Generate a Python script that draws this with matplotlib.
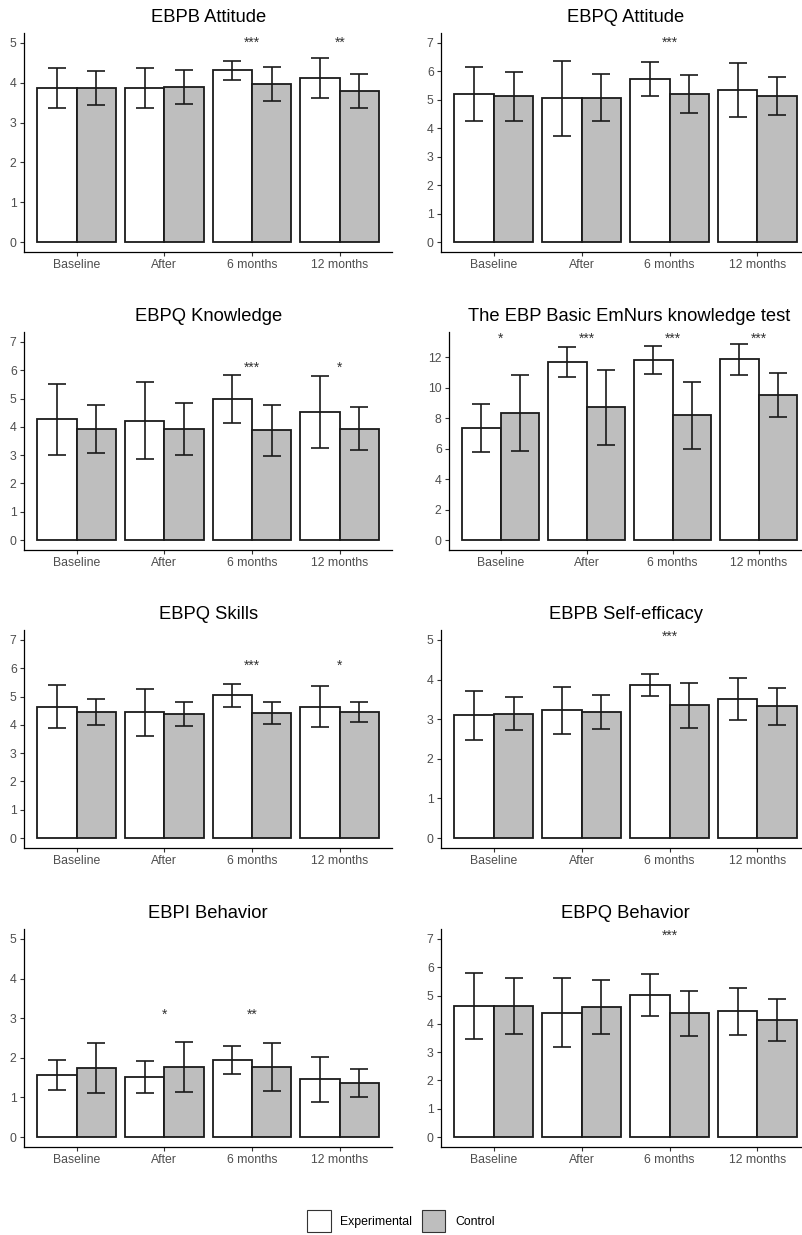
import matplotlib
matplotlib.use("Agg")
import matplotlib.pyplot as plt
from matplotlib.patches import Patch
import numpy as np

plt.rcParams["font.family"] = ["Liberation Sans", "DejaVu Sans"]

# ---- data ----
timepoints = ["Baseline", "After", "6 months", "12 months"]

titles = ["EBPB Attitude", "EBPQ Attitude", "EBPQ Knowledge",
          "The EBP Basic EmNurs knowledge test", "EBPQ Skills",
          "EBPB Self-efficacy", "EBPI Behavior", "EBPQ Behavior"]
y_max = [5, 7, 7, 13, 7, 5, 5, 7]
y_ticks = [range(0, 6), range(0, 8), range(0, 8), range(0, 13, 2),
           range(0, 8), range(0, 6), range(0, 6), range(0, 8)]

ebpb_att_exp = [3.86, 3.86, 4.31, 4.12]
ebpb_att_exp_err = [0.50, 0.50, 0.23, 0.49]
ebpb_att_ctrl = [3.86, 3.90, 3.97, 3.80]
ebpb_att_ctrl_err = [0.43, 0.43, 0.42, 0.43]

ebpq_att_exp = [5.21, 5.05, 5.73, 5.35]
ebpq_att_exp_err = [0.96, 1.31, 0.59, 0.94]
ebpq_att_ctrl = [5.12, 5.08, 5.21, 5.12]
ebpq_att_ctrl_err = [0.86, 0.84, 0.68, 0.67]

ebpq_know_exp = [4.26, 4.22, 4.98, 4.53]
ebpq_know_exp_err = [1.27, 1.35, 0.85, 1.26]
ebpq_know_ctrl = [3.91, 3.92, 3.88, 3.94]
ebpq_know_ctrl_err = [0.85, 0.91, 0.90, 0.76]

test_exp = [7.35, 11.67, 11.80, 11.85]
test_exp_err = [1.58, 0.97, 0.91, 1.04]
test_ctrl = [8.34, 8.71, 8.18, 9.54]
test_ctrl_err = [2.48, 2.48, 2.19, 1.45]

ebpq_skill_exp = [4.64, 4.44, 5.04, 4.64]
ebpq_skill_exp_err = [0.76, 0.83, 0.42, 0.72]
ebpq_skill_ctrl = [4.45, 4.38, 4.42, 4.45]
ebpq_skill_ctrl_err = [0.46, 0.43, 0.40, 0.34]

ebpb_self_exp = [3.10, 3.22, 3.87, 3.52]
ebpb_self_exp_err = [0.62, 0.60, 0.28, 0.53]
ebpb_self_ctrl = [3.14, 3.18, 3.35, 3.32]
ebpb_self_ctrl_err = [0.42, 0.44, 0.56, 0.46]

ebpi_beh_exp = [1.57, 1.52, 1.95, 1.46]
ebpi_beh_exp_err = [0.38, 0.41, 0.35, 0.57]
ebpi_beh_ctrl = [1.75, 1.77, 1.77, 1.36]
ebpi_beh_ctrl_err = [0.63, 0.62, 0.61, 0.35]

ebpq_beh_exp = [4.63, 4.40, 5.02, 4.44]
ebpq_beh_exp_err = [1.16, 1.22, 0.75, 0.82]
ebpq_beh_ctrl = [4.63, 4.60, 4.37, 4.14]
ebpq_beh_ctrl_err = [0.99, 0.95, 0.80, 0.74]

stars = [["", "", "***", "**"], ["", "", "***", ""], ["", "", "***", "*"],
         ["*", "***", "***", "***"], ["", "", "***", "*"], ["", "", "***", ""],
         ["", "*", "**", ""], ["", "", "***", ""]]
star_y = [5.0, 7.0, 6.1, 13.2, 6.1, 5.08, 3.09, 7.12]

panels = [
    (ebpb_att_exp, ebpb_att_exp_err, ebpb_att_ctrl, ebpb_att_ctrl_err),
    (ebpq_att_exp, ebpq_att_exp_err, ebpq_att_ctrl, ebpq_att_ctrl_err),
    (ebpq_know_exp, ebpq_know_exp_err, ebpq_know_ctrl, ebpq_know_ctrl_err),
    (test_exp, test_exp_err, test_ctrl, test_ctrl_err),
    (ebpq_skill_exp, ebpq_skill_exp_err, ebpq_skill_ctrl, ebpq_skill_ctrl_err),
    (ebpb_self_exp, ebpb_self_exp_err, ebpb_self_ctrl, ebpb_self_ctrl_err),
    (ebpi_beh_exp, ebpi_beh_exp_err, ebpi_beh_ctrl, ebpi_beh_ctrl_err),
    (ebpq_beh_exp, ebpq_beh_exp_err, ebpq_beh_ctrl, ebpq_beh_ctrl_err),
]

# ---- layout (pixels) ----
W, H = 802, 1235
row_top = [33, 332, 630, 929]
row_bottom = [252, 550, 848, 1147]
left_x = [24, 441, 24, 449, 24, 441, 24, 441]
px_per_unit = [87.7, 87.9, 87.7, 86.0, 87.7, 87.9, 87.7, 87.9]

ctrl_color = "#bebebe"
edge_color = "#1a1a1a"
text_gray = "#4d4d4d"

fig = plt.figure(figsize=(W / 100, H / 100), dpi=100)

x = np.arange(1, len(timepoints) + 1)
bw = 0.45

for i, (exp, exp_err, ctrl, ctrl_err) in enumerate(panels):
    row = i // 2
    x0 = left_x[i]
    width = 4.2 * px_per_unit[i]
    ax = fig.add_axes([x0 / W, 1 - row_bottom[row] / H, width / W,
                       (row_bottom[row] - row_top[row]) / H])

    ax.bar(x - bw / 2, exp, width=bw, color="white", edgecolor=edge_color,
           linewidth=1.3, zorder=2)
    ax.bar(x + bw / 2, ctrl, width=bw, color=ctrl_color, edgecolor=edge_color,
           linewidth=1.3, zorder=2)
    ax.errorbar(x - bw / 2, exp, yerr=exp_err, fmt="none", ecolor=edge_color,
                elinewidth=1.2, capsize=6.3, capthick=1.2, zorder=3)
    ax.errorbar(x + bw / 2, ctrl, yerr=ctrl_err, fmt="none", ecolor=edge_color,
                elinewidth=1.2, capsize=6.3, capthick=1.2, zorder=3)

    for xi, s in zip(x, stars[i]):
        if s:
            ax.text(xi, star_y[i], s, ha="center", va="center", fontsize=10,
                    color="#333333")

    m = y_max[i]
    ax.set_ylim(-0.05 * m, 1.05 * m)
    ax.set_xlim(0.4, 4.6)
    ax.set_yticks(list(y_ticks[i]))
    ax.set_xticks(x)
    ax.set_xticklabels(timepoints)
    ax.set_title(titles[i], fontsize=13.2, color="black", pad=8)

    for side in ("top", "right"):
        ax.spines[side].set_visible(False)
    for side in ("left", "bottom"):
        ax.spines[side].set_color("black")
        ax.spines[side].set_linewidth(0.9)
    ax.tick_params(axis="both", length=2.8, width=0.8, color="#333333",
                   labelsize=8.8, labelcolor=text_gray, pad=2.5)

handles = [Patch(facecolor="white", edgecolor="#333333", linewidth=0.8),
           Patch(facecolor=ctrl_color, edgecolor="#333333", linewidth=0.8)]
fig.legend(handles, ["Experimental", "Control"], loc="center",
           bbox_to_anchor=(0.5, 1 - 1221 / H), ncol=2, frameon=False,
           fontsize=8.8, handlelength=1.9, handleheight=2.5,
           handletextpad=0.8, columnspacing=0.8)

fig.savefig("out.png", dpi=100)
